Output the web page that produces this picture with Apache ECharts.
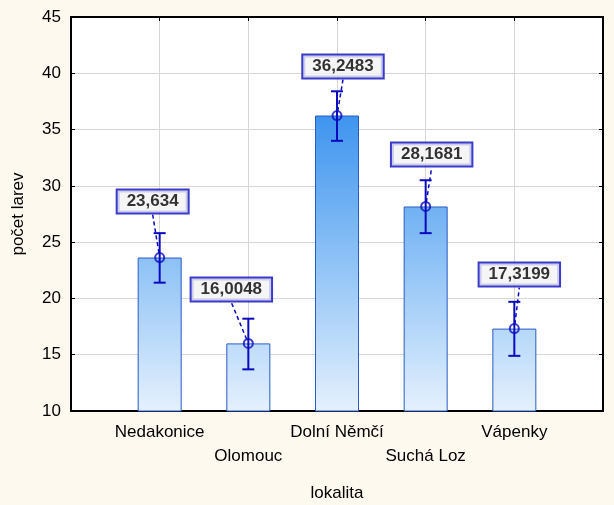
<!DOCTYPE html>
<html lang="cs">
<head>
    <meta charset="UTF-8">
    <title>počet larev - lokalita</title>
    <script src="https://cdn.jsdelivr.net/npm/echarts@6/dist/echarts.min.js"></script>
    <style>
        html, body { margin: 0; padding: 0; background: #FEF9EE; }
    </style>
</head>
<body>
<div id="main" style="width: 614px;height: 505px"></div>

<script>
    // data
    var lokality = ['Nedakonice', 'Olomouc', 'Dolní Němčí', 'Suchá Loz', 'Vápenky'];
    var prumer = [23.634, 16.0048, 36.2483, 28.1681, 17.3199];
    var dolniMez = [21.4, 13.7, 34.0, 25.8, 14.9];
    var horniMez = [25.8, 18.2, 38.4, 30.5, 19.7];
    var yTicks = [10, 15, 20, 25, 30, 35, 40, 45];

    // posun popisku (px) – jen rozvrzeni
    var labelDx = [-7, -17, 6, 6, 5];
    var labelDy = [-56, -54, -49, -52, -54];

    var font = 'Arial, "Liberation Sans", sans-serif';
    var modra = '#0A0ABE';

    var kategorie = [''].concat(lokality).concat(['']);

    var barData = [], bodyData = [], chybData = [];
    for (var i = 0; i < lokality.length; i++) {
        barData.push([i + 1, prumer[i]]);
        bodyData.push([i + 1, prumer[i]]);
        chybData.push([i + 1, dolniMez[i], horniMez[i]]);
    }

    var myChart = echarts.init(document.getElementById('main'));

    var option = {
        backgroundColor: '#FEF9EE',
        animation: false,
        grid: {
            left: 71,
            right: 11,
            top: 17,
            bottom: 94,
            show: true,
            backgroundColor: '#fff',
            borderColor: '#000',
            borderWidth: 2,
            containLabel: false,
            outerBoundsMode: 'none'
        },
        xAxis: [{
            type: 'category',
            data: kategorie,
            boundaryGap: false,
            name: 'lokalita',
            nameLocation: 'middle',
            nameGap: 74,
            nameTextStyle: { fontFamily: font, fontSize: 17, color: '#000' },
            axisLine: { lineStyle: { color: '#000', width: 2 } },
            axisTick: { inside: true, length: 4, interval: 0, lineStyle: { color: '#000' } },
            splitLine: { show: true, interval: 0, lineStyle: { color: '#D6D6D6' } },
            axisLabel: {
                interval: 0,
                margin: 9,
                fontFamily: font,
                fontSize: 17,
                lineHeight: 24,
                color: '#000',
                formatter: function (v, idx) {
                    return (idx === 2 || idx === 4) ? '\n' + v : v;
                }
            }
        }, {
            type: 'category',
            data: kategorie,
            boundaryGap: false,
            position: 'top',
            axisLine: { lineStyle: { color: '#000', width: 2 } },
            axisTick: { inside: true, length: 4, interval: 0, lineStyle: { color: '#000' } },
            axisLabel: { show: false },
            splitLine: { show: false }
        }],
        yAxis: [{
            type: 'value',
            min: yTicks[0],
            max: yTicks[yTicks.length - 1],
            interval: 5,
            name: 'počet larev',
            nameLocation: 'middle',
            nameGap: 44,
            nameRotate: 90,
            nameTextStyle: { fontFamily: font, fontSize: 17, color: '#000' },
            axisLine: { show: true, lineStyle: { color: '#000', width: 2 } },
            axisTick: { show: true, inside: true, length: 4, lineStyle: { color: '#000' } },
            splitLine: { show: true, lineStyle: { color: '#D6D6D6' } },
            axisLabel: { margin: 10, fontFamily: font, fontSize: 17, color: '#000' }
        }, {
            type: 'value',
            min: yTicks[0],
            max: yTicks[yTicks.length - 1],
            interval: 5,
            position: 'right',
            axisLine: { show: true, lineStyle: { color: '#000', width: 2 } },
            axisTick: { show: true, inside: true, length: 4, lineStyle: { color: '#000' } },
            axisLabel: { show: false },
            splitLine: { show: false }
        }],
        series: [{
            type: 'bar',
            data: barData,
            barWidth: 44,
            itemStyle: {
                color: new echarts.graphic.LinearGradient(0, 112, 0, 410, [
                    { offset: 0, color: '#3C93EE' },
                    { offset: 0.5, color: '#8EC2F6' },
                    { offset: 1, color: '#E4F0FD' }
                ], true),
                borderColor: '#2A5CC4',
                borderWidth: 1
            },
            z: 2
        }, {
            type: 'custom',
            data: chybData,
            z: 3,
            renderItem: function (params, api) {
                var x = api.value(0);
                var dole = api.coord([x, api.value(1)]);
                var nahore = api.coord([x, api.value(2)]);
                var w = 6;
                var st = { stroke: modra, lineWidth: 2 };
                return {
                    type: 'group',
                    children: [{
                        type: 'line',
                        shape: { x1: dole[0], y1: dole[1], x2: nahore[0], y2: nahore[1] },
                        style: st
                    }, {
                        type: 'line',
                        shape: { x1: dole[0] - w, y1: dole[1], x2: dole[0] + w, y2: dole[1] },
                        style: st
                    }, {
                        type: 'line',
                        shape: { x1: nahore[0] - w, y1: nahore[1], x2: nahore[0] + w, y2: nahore[1] },
                        style: st
                    }]
                };
            }
        }, {
            type: 'scatter',
            data: bodyData,
            symbol: 'circle',
            symbolSize: 9,
            z: 4,
            itemStyle: {
                color: 'rgba(255,255,255,0)',
                borderColor: modra,
                borderWidth: 2
            },
            label: {
                show: true,
                position: 'inside',
                formatter: function (p) {
                    return String(p.value[1]).replace('.', ',');
                },
                fontFamily: font,
                fontSize: 17,
                fontWeight: 'bold',
                color: '#000',
                backgroundColor: '#F3F3F3',
                borderColor: modra,
                borderWidth: 2,
                padding: [3, 9, 2, 9]
            },
            labelLayout: function (p) {
                return { dx: labelDx[p.dataIndex], dy: labelDy[p.dataIndex] };
            },
            labelLine: {
                show: true,
                lineStyle: { color: modra, width: 1.5, type: [4, 3] }
            }
        }]
    };

    myChart.setOption(option);
</script>
</body>
</html>
